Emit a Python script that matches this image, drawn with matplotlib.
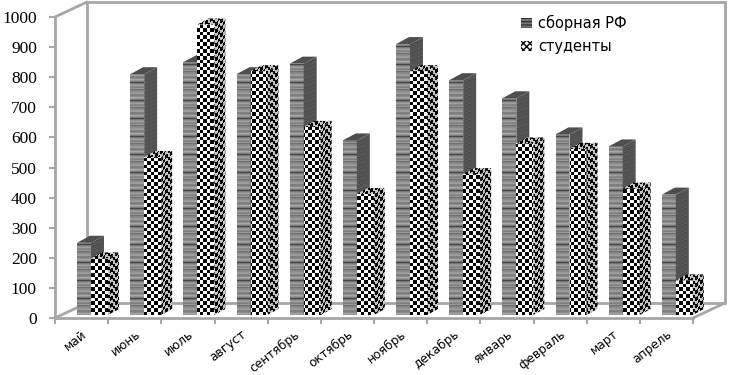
import matplotlib
matplotlib.use("Agg")
import matplotlib.pyplot as plt
import numpy as np
from matplotlib.patches import Patch, Polygon

plt.rcParams["font.family"] = ["DejaVu Sans"]

months = ["май", "июнь", "июль", "август", "сентябрь", "октябрь", "ноябрь",
          "декабрь", "январь", "февраль", "март", "апрель"]
team = [240, 800, 840, 800, 835, 580, 900, 780, 720, 600, 560, 400]
students = [188, 525, 965, 810, 625, 402, 810, 468, 570, 552, 420, 115]
series_names = ["сборная РФ", "студенты"]
y_ticks = list(range(0, 1001, 100))

W, H = 729, 375
LEFT, RIGHT, BOTTOM, TOP = 55, 693, 318, 17
FRAME = "#a6a6a6"

px_x = (RIGHT - LEFT) / len(months)  # pixels per category
px_y = (BOTTOM - TOP) / 1000  # pixels per value unit

fig = plt.figure(figsize=(W / 100, H / 100), dpi=100)

# real axis with ticks and labels
ax = fig.add_axes([LEFT / W, 1 - BOTTOM / H, (RIGHT - LEFT) / W, (BOTTOM - TOP) / H])
ax.patch.set_visible(False)
ax.set_xlim(0, len(months))
ax.set_ylim(0, 1000)
for side in ["top", "right"]:
    ax.spines[side].set_visible(False)
for side in ["left", "bottom"]:
    ax.spines[side].set_color(FRAME)
    ax.spines[side].set_linewidth(2)
ax.set_yticks(y_ticks)
ax.set_yticklabels([str(v) for v in y_ticks], family="Liberation Serif", fontsize=12.5)
ax.tick_params(axis="y", length=4, width=1.5, color=FRAME, pad=9)
ax.set_xticks(range(len(months) + 1))
ax.set_xticklabels([])
ax.tick_params(axis="x", which="major", length=4, width=1.5, color=FRAME)
ax.set_xticks(np.arange(len(months)) + 0.5, minor=True)
ax.set_xticklabels(months, minor=True, rotation=38, ha="right", va="top",
                   rotation_mode="anchor", fontsize=8.8)
ax.tick_params(axis="x", which="minor", length=0, pad=7)

# overlay covering the whole figure, same data units, for the depth part
art = fig.add_axes([0, 0, 1, 1])
art.patch.set_visible(False)
art.axis("off")
xlim = (-LEFT / px_x, (W - LEFT) / px_x)
ylim = ((BOTTOM - H) / px_y, BOTTOM / px_y)
extent = (xlim[0], xlim[1], ylim[0], ylim[1])

# textures on the figure pixel grid
rows, cols = np.mgrid[0:H, 0:W]
stripe = np.array([132, 140, 150, 158, 128, 124, 140, 168, 150, 122, 70, 118, 144, 160, 136, 128, 150, 112])
dark = np.array([78, 86, 82, 92, 76, 84, 80, 88])
front_stripes = stripe[rows % len(stripe)]
side_stripes = dark[(rows + cols // 3) % len(dark)]
front_check = ((cols * 2 // 7 + rows * 2 // 7) % 2) * 255
sheared = (rows + cols * 0.55).astype(int)
side_check = ((cols * 2 // 5 + sheared * 2 // 7) % 2) * 190 + 5
top_dark = np.full((H, W), 78)


def textured(points, texture):
    im = art.imshow(texture, extent=extent, cmap="gray", vmin=0, vmax=255,
                    interpolation="nearest", aspect="auto")
    clip = Polygon(points, transform=art.transData, closed=True)
    im.set_clip_path(clip)


def draw_bar(x0, width, value, front, side, top, depth):
    dx = depth[0] / px_x
    dy = depth[1] / px_y
    base = 3 / px_y
    y0, y1 = base, value + base
    x1 = x0 + width
    textured([(x0, y0), (x1, y0), (x1, y1), (x0, y1)], front)
    textured([(x1, y0), (x1 + dx, y0 + dy), (x1 + dx, y1 + dy), (x1, y1)], side)
    textured([(x0, y1), (x1, y1), (x1 + dx, y1 + dy), (x0 + dx, y1 + dy)], top)


# walls and floor
depth_x, depth_y = 32, 15
wall_kw = dict(color=FRAME, lw=2, solid_capstyle="round", zorder=0)
back_x0 = depth_x / px_x
back_y0 = depth_y / px_y
n = len(months)
art.plot([0, back_x0], [0, back_y0], **wall_kw)
art.plot([0, back_x0], [1000, 1000 + back_y0], **wall_kw)
art.plot([n, n + back_x0], [0, back_y0], **wall_kw)
art.plot([back_x0, back_x0], [back_y0, 1000 + back_y0], **wall_kw)
art.plot([back_x0, n + back_x0], [back_y0, back_y0], **wall_kw)
art.plot([back_x0, n + back_x0], [1000 + back_y0, 1000 + back_y0], **wall_kw)
art.plot([n + back_x0, n + back_x0], [back_y0, 1000 + back_y0], **wall_kw)

for i in range(n):
    draw_bar(i + 22 / px_x, 14 / px_x, team[i], front_stripes, side_stripes, top_dark, (13, 7))
    draw_bar(i + 36 / px_x, 17 / px_x, students[i], front_check, side_check, side_check, (11, 6))

art.set_xlim(xlim)
art.set_ylim(ylim)

handles = [
    Patch(facecolor="#777777", edgecolor="#333333", hatch="-----", lw=0),
    Patch(facecolor="white", edgecolor="black", hatch="xxxxx", lw=0),
]
art.legend(handles, series_names, frameon=False, fontsize=10.5, handlelength=0.75,
           handleheight=0.7, handletextpad=0.4, labelspacing=0.55,
           loc="upper left", bbox_to_anchor=(521 / W, 1 - 15 / H), borderaxespad=0, borderpad=0)

fig.savefig("out.png", dpi=100)
